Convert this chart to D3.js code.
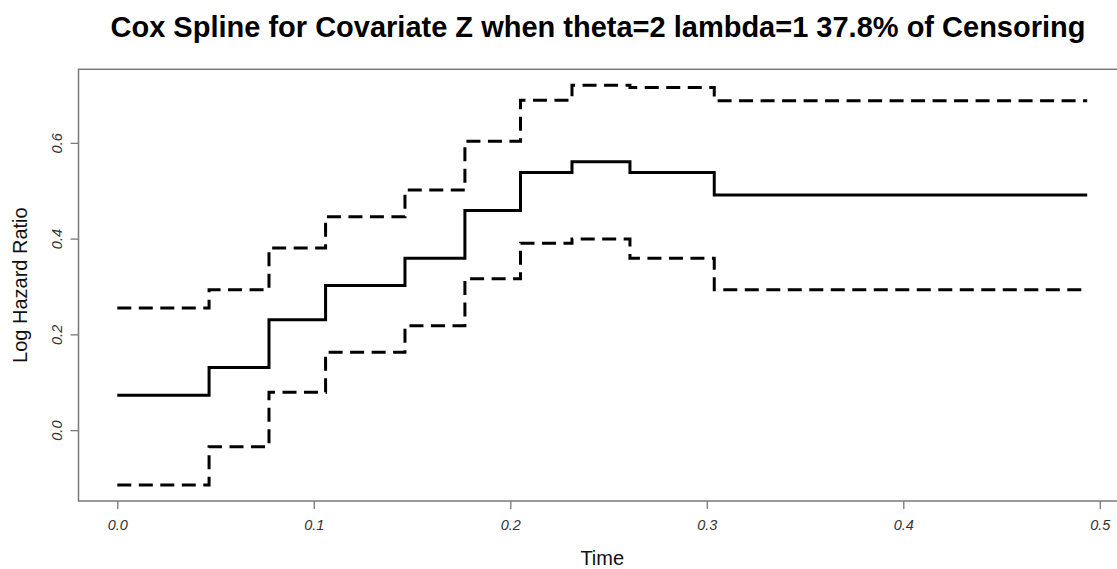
<!DOCTYPE html>
<html>
<head>
<meta charset="utf-8">
<script src="https://cdn.jsdelivr.net/npm/d3@7"></script>
<style>
  body { margin: 0; background: #fff; }
  text { font-family: "Liberation Sans", Arial, sans-serif; }
</style>
</head>
<body>
<svg id="chart" width="1117" height="569"></svg>
<script>
// Step function estimate of the log hazard ratio and its pointwise band.
// Each value holds from its time until the next one; the last entry repeats
// the final level so the step ends at the last observed time.
const stepTimes  = [0, 0.0467, 0.0772, 0.1060, 0.1464, 0.1769, 0.2052, 0.2314, 0.2609, 0.3038, 0.4936];
const estimate   = [0.0729, 0.1306, 0.2306, 0.3021, 0.3592, 0.4588, 0.5383, 0.5604, 0.5383, 0.4910, 0.4910];
const upperBand  = [0.2550, 0.2931, 0.3806, 0.4458, 0.5015, 0.6035, 0.6890, 0.7202, 0.7154, 0.6879, 0.6879];
const lowerBand  = [-0.1146, -0.0346, 0.0792, 0.1625, 0.2181, 0.3160, 0.3904, 0.3994, 0.3592, 0.2931, 0.2931];

const xTicks = [0, 0.1, 0.2, 0.3, 0.4, 0.5];
const yTicks = [0, 0.2, 0.4, 0.6];

const titleText = "Cox Spline for Covariate Z when theta=2 lambda=1 37.8% of Censoring";
const xLabel = "Time";
const yLabel = "Log Hazard Ratio";

const svg = d3.select("#chart");
const box = { left: 78.5, right: 1126, top: 69.3, bottom: 501 };

// Axis limits padded by 4% on each side of the data range
function padded(lo, hi) {
  const p = (hi - lo) * 0.04;
  return [lo - p, hi + p];
}
const xExt = d3.extent(stepTimes);
const yExt = [d3.min(lowerBand), d3.max(upperBand)];

const x = d3.scaleLinear().domain(padded(xExt[0], xExt[1])).range([box.left, box.right]);
const y = d3.scaleLinear().domain(padded(yExt[0], yExt[1])).range([box.bottom, box.top]);

const axisGrey = "#7a7a7a";
const labelGrey = "#333";

// Plot frame
svg.append("rect")
  .attr("x", box.left).attr("y", box.top)
  .attr("width", box.right - box.left).attr("height", box.bottom - box.top)
  .attr("fill", "none").attr("stroke", axisGrey).attr("stroke-width", 1.5);

// Bottom axis
const xAxis = svg.append("g")
  .attr("transform", `translate(0,${box.bottom})`)
  .call(d3.axisBottom(x).tickValues(xTicks).tickFormat(d3.format(".1f")).tickSizeOuter(0).tickSize(8).tickPadding(11));
xAxis.select(".domain").remove();
xAxis.selectAll("line").attr("stroke", axisGrey).attr("stroke-width", 1.3);
xAxis.selectAll("text")
  .attr("fill", labelGrey).attr("font-size", 14.5).attr("font-style", "italic")
  .style("font-family", '"Liberation Sans", Arial, sans-serif');

// Left axis with labels turned parallel to the axis
const yAxis = svg.append("g")
  .attr("transform", `translate(${box.left},0)`)
  .call(d3.axisLeft(y).tickValues(yTicks).tickFormat(d3.format(".1f")).tickSizeOuter(0).tickSize(8).tickPadding(0));
yAxis.select(".domain").remove();
yAxis.selectAll("line").attr("stroke", axisGrey).attr("stroke-width", 1.3);
yAxis.selectAll("text")
  .attr("x", null).attr("dy", null)
  .attr("transform", "translate(-17,0) rotate(-90)")
  .attr("text-anchor", "middle")
  .attr("fill", labelGrey).attr("font-size", 14.5).attr("font-style", "italic")
  .style("font-family", '"Liberation Sans", Arial, sans-serif');

// Step curves
const stepLine = vals => d3.line()
  .x((d, i) => x(stepTimes[i]))
  .y(d => y(d))
  .curve(d3.curveStepAfter)(vals);

const series = [
  { vals: upperBand, dash: "14,7.5" },
  { vals: lowerBand, dash: "14,7.5" },
  { vals: estimate,  dash: null }
];
svg.append("g").selectAll("path")
  .data(series)
  .join("path")
  .attr("d", s => stepLine(s.vals))
  .attr("fill", "none")
  .attr("stroke", "#000")
  .attr("stroke-width", 3)
  .attr("stroke-dasharray", s => s.dash);

// Titles
svg.append("text")
  .attr("x", 598).attr("y", 37)
  .attr("text-anchor", "middle")
  .attr("font-size", 29).attr("font-weight", "bold").attr("fill", "#000")
  .text(titleText);

svg.append("text")
  .attr("x", (box.left + box.right) / 2).attr("y", 565)
  .attr("text-anchor", "middle")
  .attr("font-size", 20).attr("fill", "#111")
  .text(xLabel);

svg.append("text")
  .attr("transform", `translate(27,${(box.top + box.bottom) / 2}) rotate(-90)`)
  .attr("text-anchor", "middle")
  .attr("font-size", 20).attr("fill", "#111")
  .text(yLabel);
</script>
</body>
</html>
